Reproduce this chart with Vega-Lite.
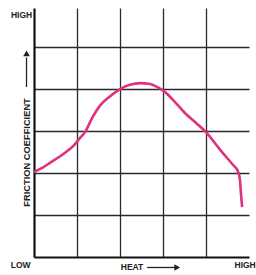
{
  "$schema": "https://vega.github.io/schema/vega-lite/v6.json",
  "width": 215,
  "height": 249,
  "autosize": {"type": "none"},
  "padding": {"left": 34, "top": 8, "right": 7, "bottom": 18},
  "background": "white",
  "config": {"view": {"stroke": null}},
  "datasets": {
    "curve": [
      {"heat": 0, "friction": 2.02},
      {"heat": 0.19, "friction": 2.12},
      {"heat": 0.37, "friction": 2.24},
      {"heat": 0.65, "friction": 2.43},
      {"heat": 0.91, "friction": 2.64},
      {"heat": 1.09, "friction": 2.86},
      {"heat": 1.19, "friction": 2.98},
      {"heat": 1.35, "friction": 3.31},
      {"heat": 1.53, "friction": 3.6},
      {"heat": 1.77, "friction": 3.83},
      {"heat": 2.0, "friction": 4.0},
      {"heat": 2.23, "friction": 4.1},
      {"heat": 2.47, "friction": 4.14},
      {"heat": 2.7, "friction": 4.12},
      {"heat": 2.86, "friction": 4.05},
      {"heat": 3.02, "friction": 3.95},
      {"heat": 3.28, "friction": 3.69},
      {"heat": 3.51, "friction": 3.43},
      {"heat": 3.77, "friction": 3.19},
      {"heat": 4.02, "friction": 2.95},
      {"heat": 4.33, "friction": 2.55},
      {"heat": 4.63, "friction": 2.19},
      {"heat": 4.74, "friction": 2.05},
      {"heat": 4.79, "friction": 1.83},
      {"heat": 4.81, "friction": 1.55},
      {"heat": 4.84, "friction": 1.19}
    ],
    "labels": [
      {"text": "HIGH", "x": -0.29, "y": 5.76},
      {"text": "LOW", "x": -0.31, "y": -0.19},
      {"text": "HEAT", "x": 2.28, "y": -0.25},
      {"text": "HIGH", "x": 4.91, "y": -0.19}
    ],
    "ytitle": [
      {"text": "FRICTION COEFFICIENT", "x": -0.174, "y": 2.49}
    ],
    "shafts": [
      {"x": 2.63, "x2": 3.28, "y": -0.25, "y2": -0.25},
      {"x": -0.174, "x2": -0.174, "y": 4.05, "y2": 4.75}
    ],
    "heads": [
      {"dir": "right", "x": 3.33, "y": -0.25},
      {"dir": "up", "x": -0.174, "y": 4.85}
    ]
  },
  "layer": [
    {
      "data": {"name": "curve"},
      "mark": {"type": "line", "color": "#e0307f", "strokeWidth": 2.6, "interpolate": "monotone"},
      "encoding": {
        "x": {
          "field": "heat", "type": "quantitative", "title": null,
          "scale": {"domain": [0, 5], "nice": false, "zero": false},
          "axis": {
            "values": [1, 2, 3, 4], "grid": true, "gridColor": "#2a2a2a", "gridWidth": 1.3, "gridOpacity": 1,
            "labels": false, "ticks": false, "title": null,
            "domain": true, "domainColor": "#111", "domainWidth": 2.2
          }
        },
        "y": {
          "field": "friction", "type": "quantitative", "title": null,
          "scale": {"domain": [0, 5.93], "nice": false, "zero": false},
          "axis": {
            "values": [1, 2, 3, 4, 5], "grid": true, "gridColor": "#2a2a2a", "gridWidth": 1.3, "gridOpacity": 1,
            "labels": false, "ticks": false, "title": null,
            "domain": true, "domainColor": "#111", "domainWidth": 2.2
          }
        }
      }
    },
    {
      "data": {"name": "labels"},
      "mark": {"type": "text", "font": "Liberation Sans", "fontWeight": "bold", "fontSize": 8.5, "align": "center", "baseline": "middle", "color": "#222"},
      "encoding": {
        "x": {"field": "x", "type": "quantitative", "title": null},
        "y": {"field": "y", "type": "quantitative", "title": null},
        "text": {"field": "text"}
      }
    },
    {
      "data": {"name": "ytitle"},
      "mark": {"type": "text", "font": "Liberation Sans", "fontWeight": "bold", "fontSize": 9.3, "align": "center", "baseline": "middle", "angle": 270, "color": "#222"},
      "encoding": {
        "x": {"field": "x", "type": "quantitative", "title": null},
        "y": {"field": "y", "type": "quantitative", "title": null},
        "text": {"field": "text"}
      }
    },
    {
      "data": {"name": "shafts"},
      "mark": {"type": "rule", "color": "#222", "strokeWidth": 1.3},
      "encoding": {
        "x": {"field": "x", "type": "quantitative", "title": null},
        "x2": {"field": "x2"},
        "y": {"field": "y", "type": "quantitative", "title": null},
        "y2": {"field": "y2"}
      }
    },
    {
      "data": {"name": "heads"},
      "mark": {"type": "point", "filled": true, "color": "#222", "size": 45, "opacity": 1},
      "encoding": {
        "x": {"field": "x", "type": "quantitative", "title": null},
        "y": {"field": "y", "type": "quantitative", "title": null},
        "shape": {"field": "dir", "type": "nominal", "scale": {"domain": ["right", "up"], "range": ["triangle-right", "triangle-up"]}, "legend": null}
      }
    }
  ]
}
